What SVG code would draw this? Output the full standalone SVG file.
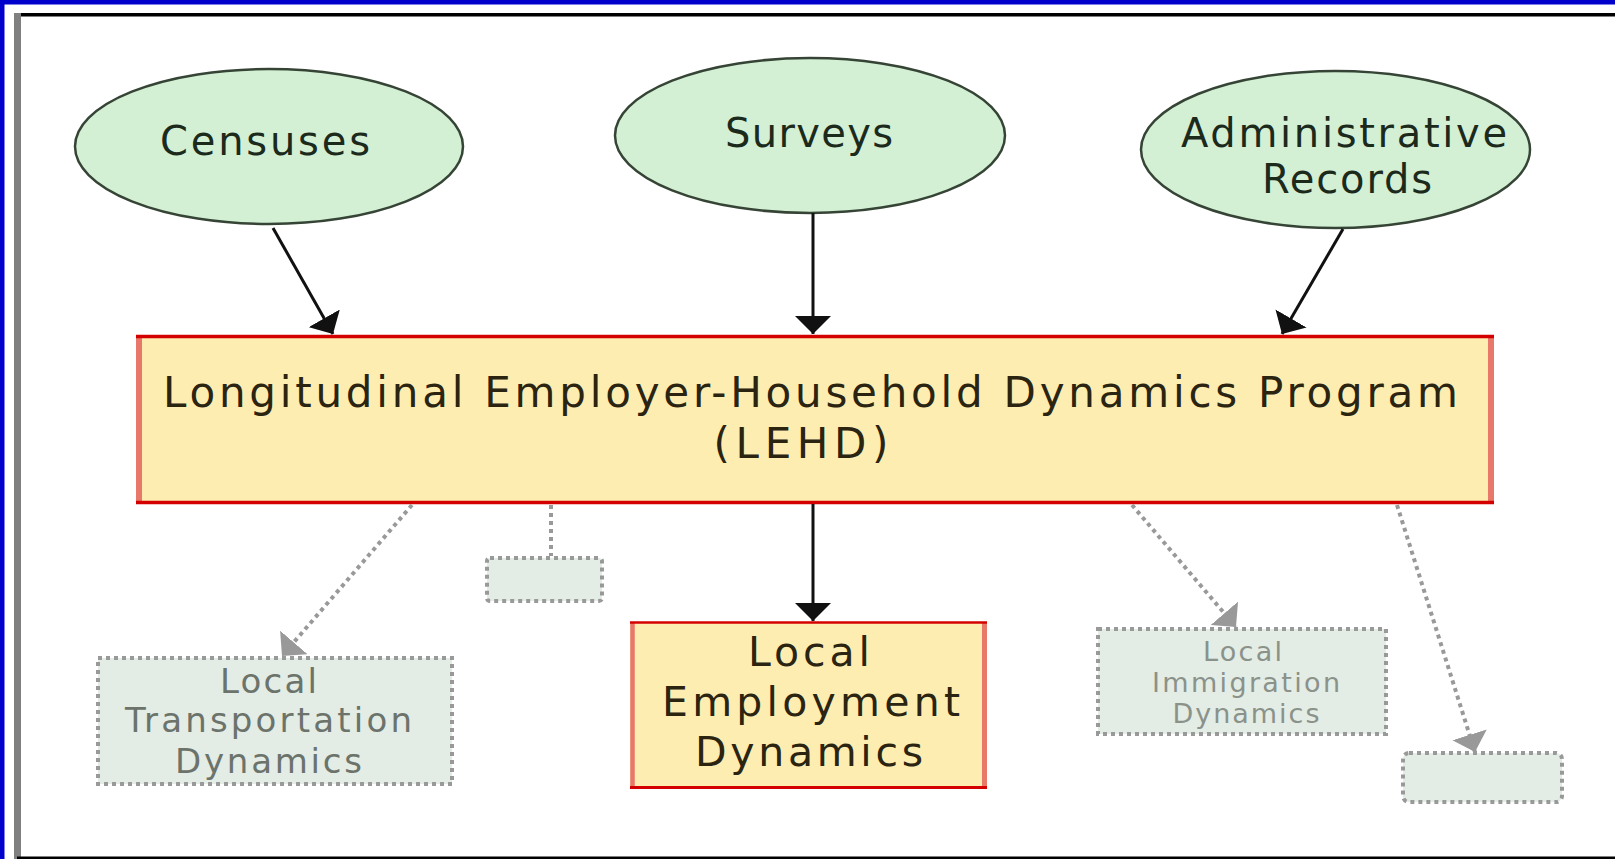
<svg xmlns="http://www.w3.org/2000/svg" width="1615" height="859" viewBox="0 0 1615 859">
<style>
  .ell { fill: #d3f0d4; stroke: #364436; stroke-width: 2.5; }
  .etxt { font-family: "DejaVu Sans", Verdana, sans-serif; font-size: 40px; fill: #1c2a1c; text-anchor: middle; }
  .main { fill: #fdedb1; }
  .red { stroke: #d40000; stroke-width: 3.5; }
  .salmon { stroke: #e8786a; stroke-width: 6; }
  .mtxt { font-family: "DejaVu Sans", Verdana, sans-serif; fill: #2a2410; text-anchor: middle; }
  .dbox { fill: #e3ece5; stroke: #999999; stroke-width: 4; stroke-dasharray: 4 4; }
  .dtxt { font-family: "DejaVu Sans", Verdana, sans-serif; text-anchor: middle; }
  .solid { stroke: #111; stroke-width: 3; fill: none; }
  .dotted { stroke: #999999; stroke-width: 4; stroke-dasharray: 4 4; fill: none; }
</style>
<defs>
  <marker id="ah" viewBox="0 0 18 36" refX="18" refY="18" markerWidth="18" markerHeight="36" markerUnits="userSpaceOnUse" orient="auto">
    <path d="M0,0 L18,18 L0,36 z" fill="#111"/>
  </marker>
  <marker id="gh" viewBox="0 0 18 36" refX="18" refY="18" markerWidth="18" markerHeight="36" markerUnits="userSpaceOnUse" orient="auto">
    <path d="M0,0 L18,18 L0,36 z" fill="#999"/>
  </marker>
</defs>

<g id="frame">
  <rect x="0" y="0" width="1615" height="859" fill="#ffffff"/>
  <rect x="0" y="0" width="1615" height="4.5" fill="#0000cc"/>
  <rect x="0" y="0" width="4.5" height="859" fill="#0000cc"/>
  <rect x="14" y="13" width="1601" height="3.5" fill="#000"/>
  <rect x="14" y="13" width="7" height="846" fill="#808080"/>
  <rect x="17" y="856.5" width="1598" height="2.5" fill="#000"/>
</g>

<g id="censuses">
  <ellipse class="ell" cx="269" cy="146.5" rx="194" ry="77.5"/>
  <text class="etxt" x="265" y="155" textLength="210" lengthAdjust="spacing">Censuses</text>
</g>

<g id="surveys">
  <ellipse class="ell" cx="810" cy="135.5" rx="195" ry="77.5"/>
  <text class="etxt" x="809" y="147" textLength="168" lengthAdjust="spacing">Surveys</text>
</g>

<g id="admin">
  <ellipse class="ell" cx="1335.5" cy="149.5" rx="194.5" ry="78.5"/>
  <text class="etxt" x="1344" y="147" textLength="326" lengthAdjust="spacing">Administrative</text>
  <text class="etxt" x="1347" y="193" textLength="170" lengthAdjust="spacing">Records</text>
</g>

<g id="lehd">
  <rect class="main" x="136" y="336.5" width="1358" height="166"/>
  <line class="salmon" x1="139" y1="336.5" x2="139" y2="502.5"/>
  <line class="salmon" x1="1491" y1="336.5" x2="1491" y2="502.5"/>
  <line class="red" x1="136" y1="336.5" x2="1494" y2="336.5"/>
  <line class="red" x1="136" y1="502.5" x2="1494" y2="502.5"/>
  <text class="mtxt" font-size="42" x="810.5" y="407" textLength="1295" lengthAdjust="spacing">Longitudinal Employer-Household Dynamics Program</text>
  <text class="mtxt" font-size="42" x="801" y="458" textLength="175" lengthAdjust="spacing">(LEHD)</text>
</g>

<g id="led">
  <rect class="main" x="630" y="622.5" width="357" height="165"/>
  <line stroke="#e8786a" stroke-width="4.5" x1="632.5" y1="622.5" x2="632.5" y2="787.5"/>
  <line stroke="#e8786a" stroke-width="5" x1="984.5" y1="622.5" x2="984.5" y2="787.5"/>
  <line stroke="#d40000" stroke-width="2.5" x1="630" y1="622.5" x2="987" y2="622.5"/>
  <line stroke="#d40000" stroke-width="3" x1="630" y1="787.5" x2="987" y2="787.5"/>
  <text class="mtxt" font-size="41" x="809" y="666" textLength="122" lengthAdjust="spacing">Local</text>
  <text class="mtxt" font-size="41" x="811" y="716" textLength="298" lengthAdjust="spacing">Employment</text>
  <text class="mtxt" font-size="41" x="809" y="766" textLength="228" lengthAdjust="spacing">Dynamics</text>
</g>

<g id="transport">
  <rect class="dbox" x="98" y="658" width="354" height="126"/>
  <text class="dtxt" fill="#6b736b" font-size="34" x="268.5" y="693" textLength="97" lengthAdjust="spacing">Local</text>
  <text class="dtxt" fill="#6b736b" font-size="34" x="268.5" y="732" textLength="287" lengthAdjust="spacing">Transportation</text>
  <text class="dtxt" fill="#6b736b" font-size="34" x="268.5" y="773" textLength="187" lengthAdjust="spacing">Dynamics</text>
</g>

<g id="blank1">
  <rect class="dbox" x="487" y="558" width="115" height="43" rx="3"/>
</g>

<g id="immigration">
  <rect class="dbox" x="1098" y="629" width="288" height="105"/>
  <text class="dtxt" fill="#8a928a" font-size="27" x="1242.5" y="661" textLength="79" lengthAdjust="spacing">Local</text>
  <text class="dtxt" fill="#8a928a" font-size="27" x="1246" y="692" textLength="188" lengthAdjust="spacing">Immigration</text>
  <text class="dtxt" fill="#8a928a" font-size="27" x="1246" y="723" textLength="147" lengthAdjust="spacing">Dynamics</text>
</g>

<g id="blank2">
  <rect class="dbox" x="1403" y="753" width="159" height="49" rx="6"/>
</g>

<g id="connectors">
  <line class="solid" x1="273" y1="228" x2="333" y2="334" marker-end="url(#ah)"/>
  <line class="solid" x1="813" y1="213" x2="813" y2="334" marker-end="url(#ah)"/>
  <line class="solid" x1="1343" y1="229" x2="1282" y2="334" marker-end="url(#ah)"/>
  <line class="solid" x1="813" y1="504" x2="813" y2="621" marker-end="url(#ah)"/>
  <line class="dotted" x1="412" y1="505" x2="282" y2="656" marker-end="url(#gh)"/>
  <line class="dotted" x1="551" y1="505" x2="551" y2="556"/>
  <line class="dotted" x1="1132" y1="505" x2="1236" y2="627" marker-end="url(#gh)"/>
  <line class="dotted" x1="1397" y1="505" x2="1475" y2="752" marker-end="url(#gh)"/>
</g>
</svg>
